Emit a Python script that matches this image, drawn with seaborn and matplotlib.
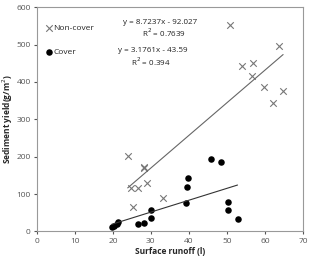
import numpy as np
import pandas as pd
import matplotlib
matplotlib.use("Agg")
import matplotlib.pyplot as plt
import seaborn as sns

# Non-cover plots
noncover_x = [50.7, 63.8, 53.9, 56.9, 56.6, 59.7, 64.8, 62.2, 23.9, 28.2, 28.2, 24.7, 26.6, 28.9, 25.2, 33.3]
noncover_y = [553, 495, 443, 450, 416, 387, 376, 343, 201, 172, 170, 116, 116, 129, 65, 89]

# Cover plots
cover_x = [19.7, 20.4, 21.0, 21.3, 26.7, 28.2, 30.1, 30.1, 45.8, 48.5, 39.9, 39.4, 39.2, 50.4, 50.4, 52.8]
cover_y = [13, 15, 20, 24, 21, 23, 35, 56, 193, 185, 143, 118, 77, 80, 56, 34]

# trendline coefficients as printed on the chart
fit_noncover = (8.7237, -92.027)
fit_cover = (3.1761, -43.59)

df = pd.DataFrame({
    "runoff": noncover_x + cover_x,
    "sediment": noncover_y + cover_y,
    "group": ["Non-cover"] * len(noncover_x) + ["Cover"] * len(cover_x),
})

sns.set_style("white")
plt.rcParams["font.family"] = ["Open Sans", "DejaVu Sans"]

fig = plt.figure(figsize=(3.10, 2.66), dpi=100)
ax = fig.add_axes([0.119, 0.130, 0.858, 0.843])

sns.scatterplot(data=df[df.group == "Non-cover"], x="runoff", y="sediment",
                marker="x", color="#777777", s=22, linewidth=0.8, ax=ax, label="Non-cover")
sns.scatterplot(data=df[df.group == "Cover"], x="runoff", y="sediment",
                marker="o", color="black", s=22, edgecolor="black", linewidth=0, ax=ax, label="Cover")

# trendlines
xs = np.array([min(noncover_x), max(noncover_x)])
ax.plot(xs, fit_noncover[0] * xs + fit_noncover[1], color="#666666", lw=0.8)
xs = np.array([min(cover_x), max(cover_x)])
ax.plot(xs, fit_cover[0] * xs + fit_cover[1], color="#333333", lw=0.8)

txt = dict(fontsize=5.8, ha="center", va="center", color="#222222")
ax.text(32.5, 558, "y = 8.7237x - 92.027", **txt)
ax.text(33.5, 531, "R$^2$ = 0.7639", **txt)
ax.text(30.6, 483, "y = 3.1761x - 43.59", **txt)
ax.text(30.0, 454, "R$^2$ = 0.394", **txt)

ax.set_xlim(0, 70)
ax.set_ylim(0, 600)
ax.set_xticks(range(0, 71, 10))
ax.set_yticks(range(0, 601, 100))
ax.tick_params(axis="both", labelsize=6, colors="#555555", length=2.5, direction="out",
               bottom=True, left=True, pad=2)
for s in ax.spines.values():
    s.set_color("#999999")
    s.set_linewidth(0.8)

ax.set_xlabel("Surface runoff (l)", fontsize=6, fontweight="bold", labelpad=2)
ax.set_ylabel("Sediment yield(g/m$^2$)", fontsize=6, fontweight="bold", labelpad=1)

ax.legend(loc="upper left", frameon=False, fontsize=6, handletextpad=0.0,
          borderaxespad=0.6, labelspacing=1.9, markerscale=1.0, handlelength=1.0,
          bbox_to_anchor=(0.0, 0.96))

fig.savefig("out.png", dpi=100)
